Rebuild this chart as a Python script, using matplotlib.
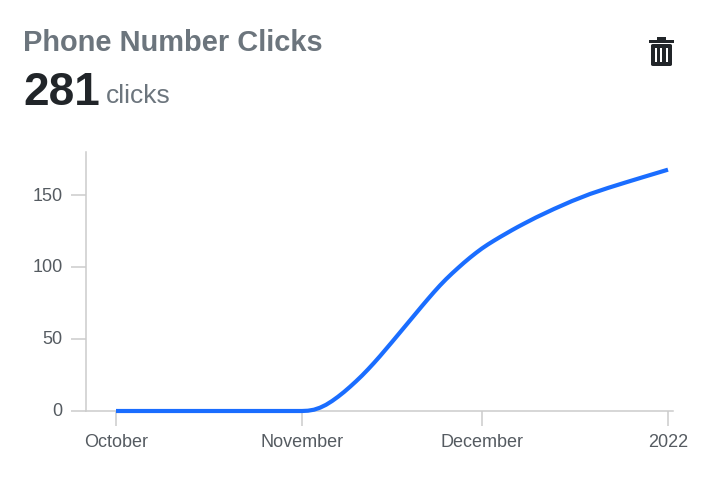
import datetime as dt
import matplotlib
matplotlib.use("Agg")
import matplotlib.pyplot as plt
import matplotlib.dates as mdates
from matplotlib.patches import Rectangle, FancyBboxPatch

# values
october_clicks = [0, 0]
november_clicks = [0, 0.2, 0.9, 2.3, 4.3, 6.9, 9.9, 13.2, 16.8, 20.6, 24.6, 28.9, 33.4, 38.1, 43,
                   47.9, 52.9, 57.9, 62.9, 67.9, 72.9, 77.8, 82.6, 87.2, 91.5, 95.5, 99.3, 103, 106.5, 109.8]
december_days = [1, 2, 3, 4, 5, 6, 7, 8, 10, 13, 16, 19, 22, 25, 28]
december_clicks = [112.9, 115.7, 118.3, 120.8, 123.2, 125.6, 127.9, 130.1, 134.4, 140.3, 145.8, 150.7,
                   154.9, 158.8, 162.6]
last_clicks = 167.6

dates = [dt.date(2021, 10, 1), dt.date(2021, 10, 15)]
dates += [dt.date(2021, 11, d) for d in range(1, 31)]
dates += [dt.date(2021, 12, d) for d in december_days]
dates += [dt.date(2022, 1, 1)]
clicks = october_clicks + november_clicks + december_clicks + [last_clicks]

tick_dates = [dt.date(2021, 10, 1), dt.date(2021, 11, 1), dt.date(2021, 12, 1), dt.date(2022, 1, 1)]
tick_names = ["October", "November", "December", "2022"]
y_ticks = [0, 50, 100, 150]

W, H = 706, 485
fig = plt.figure(figsize=(W / 100, H / 100), dpi=100)
ax = fig.add_axes([86 / W, 1 - 412 / H, (673 - 86) / W, (412 - 153) / H])

ax.plot(dates, clicks, color="#1a6dff", lw=3, solid_capstyle="butt", solid_joinstyle="round",
        clip_on=False, zorder=3)
ax.set_xlim(mdates.date2num(dt.date(2021, 10, 1)) - 5, mdates.date2num(dt.date(2022, 1, 1)) + 5 / 6)
ax.set_ylim(0, 259 / 1.44)

ax.set_xticks(tick_dates)
ax.set_xticklabels(tick_names)
ax.set_yticks(y_ticks)
for s in ["top", "right"]:
    ax.spines[s].set_visible(False)
for s in ["left", "bottom"]:
    ax.spines[s].set_color("#cccccc")
    ax.spines[s].set_linewidth(1.1)
ax.tick_params(axis="both", length=10.8, width=1.1, color="#cccccc", labelcolor="#555b61", labelsize=13)
ax.tick_params(axis="x", pad=5)
ax.tick_params(axis="y", pad=6)
for lab in ax.get_xticklabels() + ax.get_yticklabels():
    lab.set_family("Liberation Sans")
for lab in ax.get_yticklabels():
    lab.set_verticalalignment("center")

# header text
fig.text(23 / W, 1 - 51 / H, "Phone Number Clicks", family="Liberation Sans", weight="bold", size=20.9, color="#6c757d")
fig.text(23 / W, 1 - 105 / H, "281", family="Liberation Sans", weight="bold", size=33, color="#212529")
fig.text(106 / W, 1 - 103 / H, "clicks", family="Liberation Sans", size=19, color="#6c757d")

# trash icon
icon = "#212529"
def px_rect(x, y, w, h):
    fig.add_artist(Rectangle((x / W, 1 - (y + h) / H), w / W, h / H, transform=fig.transFigure, fc=icon, ec="none"))
px_rect(649, 40.5, 25, 3.5)
px_rect(657, 38, 9, 3)
fig.add_artist(FancyBboxPatch((651 / W, 1 - 67 / H), 21 / W, 22 / H, boxstyle="round,pad=0,rounding_size=0.003",
                              transform=fig.transFigure, fc=icon, ec="none"))
for x in [655, 660.3, 665.5]:
    fig.add_artist(Rectangle((x / W, 1 - 62.5 / H), 2.2 / W, 14 / H, transform=fig.transFigure, fc="white", ec="none"))

fig.savefig("out.png", dpi=100)
